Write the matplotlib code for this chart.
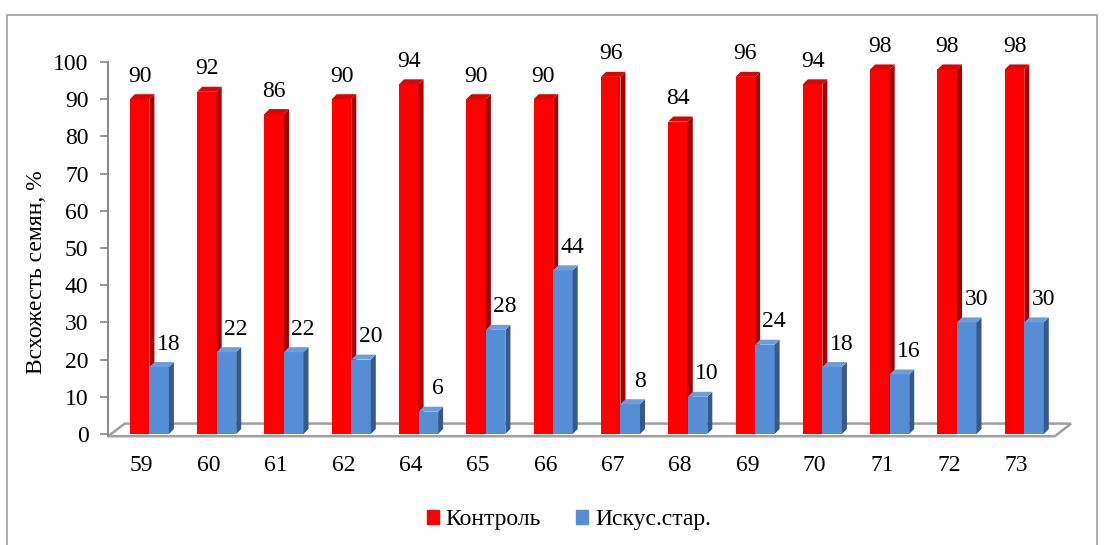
import matplotlib.pyplot as plt
from matplotlib.patches import Polygon, Rectangle, Patch

plt.rcParams['font.family'] = ['Liberation Serif', 'DejaVu Serif']

# data
lines = ['59', '60', '61', '62', '64', '65', '66', '67', '68', '69', '70', '71', '72', '73']
control = [90, 92, 86, 90, 94, 90, 90, 96, 84, 96, 94, 98, 98, 98]
aged = [18, 22, 22, 20, 6, 28, 44, 8, 10, 24, 18, 16, 30, 30]

fs = 17
W, H = 1108, 545
fig = plt.figure(figsize=(W / 100, H / 100), dpi=100)
# outer chart frame
fig.add_artist(Rectangle((7 / W, -0.1), (1097 - 7) / W, 1.1 - 15 / H,
                         transform=fig.transFigure, fill=False, ec='#a6a6a6', lw=1.3))

px0, px1 = 108, 1080
py0, py1 = 434, 62
step = 67.3
ax = fig.add_axes([px0 / W, 1 - py0 / H, (px1 - px0) / W, (py0 - py1) / H])
ax.set_xlim(-0.5, -0.5 + (px1 - px0) / step)
ax.set_ylim(0, 100)

ddx = 5 / step          # depth offset of the bars
ddy = 5 / ((py0 - py1) / 100)

# floor
floor = Polygon([(-0.5, -0.6), (13.57, -0.6), (13.81, 2.8), (-0.25, 2.8)],
                closed=True, fc='white', ec='#a0a0a0', lw=1.8, zorder=1, clip_on=False)
ax.add_patch(floor)

x = list(range(len(lines)))
w = 0.29
xr = [i - 0.175 for i in x]
xb = [i - 0.175 + w for i in x]


def faces(bars, side, top, z):
    for b in bars:
        x0, x1, h = b.get_x(), b.get_x() + b.get_width(), b.get_height()
        ax.add_patch(Polygon([(x1, 0), (x1 + ddx, ddy), (x1 + ddx, h + ddy), (x1, h)],
                             fc=side, ec='none', zorder=z, clip_on=False))
        ax.add_patch(Polygon([(x0, h), (x0 + ddx, h + ddy), (x1 + ddx, h + ddy), (x1, h)],
                             fc=top, ec='none', zorder=z, clip_on=False))


for i in x:
    rb = ax.bar(xr[i], control[i], width=w, align='edge', color='#ff0000', zorder=2 + i * 2, clip_on=False)
    faces(rb, '#a80000', '#e00000', 2 + i * 2)
    bb = ax.bar(xb[i], aged[i], width=w, align='edge', color='#558ed5', zorder=3 + i * 2, clip_on=False)
    faces(bb, '#35598a', '#6b9ee0', 3 + i * 2)
    ax.text(xr[i] + w / 2, control[i] + ddy + 2.0, str(control[i]), ha='center', va='bottom',
            fontsize=fs, zorder=40)
    ax.text(xb[i] + w / 2 + 0.14, aged[i] + ddy + 2.0, str(aged[i]), ha='center', va='bottom',
            fontsize=fs, zorder=40)

for s in ['top', 'right', 'bottom']:
    ax.spines[s].set_visible(False)
ax.spines['left'].set_color('#8c8c8c')
ax.spines['left'].set_linewidth(1.5)
ax.spines['left'].set_bounds(-0.6, 100)
ax.set_yticks(range(0, 101, 10))
ax.tick_params(axis='y', length=6, width=1.3, color='#8c8c8c', labelsize=fs, pad=8)
ax.set_xticks(x)
ax.set_xticklabels(lines)
ax.tick_params(axis='x', length=0, labelsize=fs, pad=15)
ax.set_ylabel('Всхожесть семян, %', fontsize=fs)
ax.yaxis.set_label_coords(-0.0625, 0.435)

handles = [Patch(color='#ff0000', label='Контроль'), Patch(color='#558ed5', label='Искус.стар.')]
fig.legend(handles=handles, loc='center', bbox_to_anchor=(569 / W, 1 - 520 / H), ncol=2,
           frameon=False, fontsize=fs, handlelength=0.5, handleheight=0.5,
           handletextpad=0.3, columnspacing=1.5)

fig.savefig('out.png', dpi=100)
